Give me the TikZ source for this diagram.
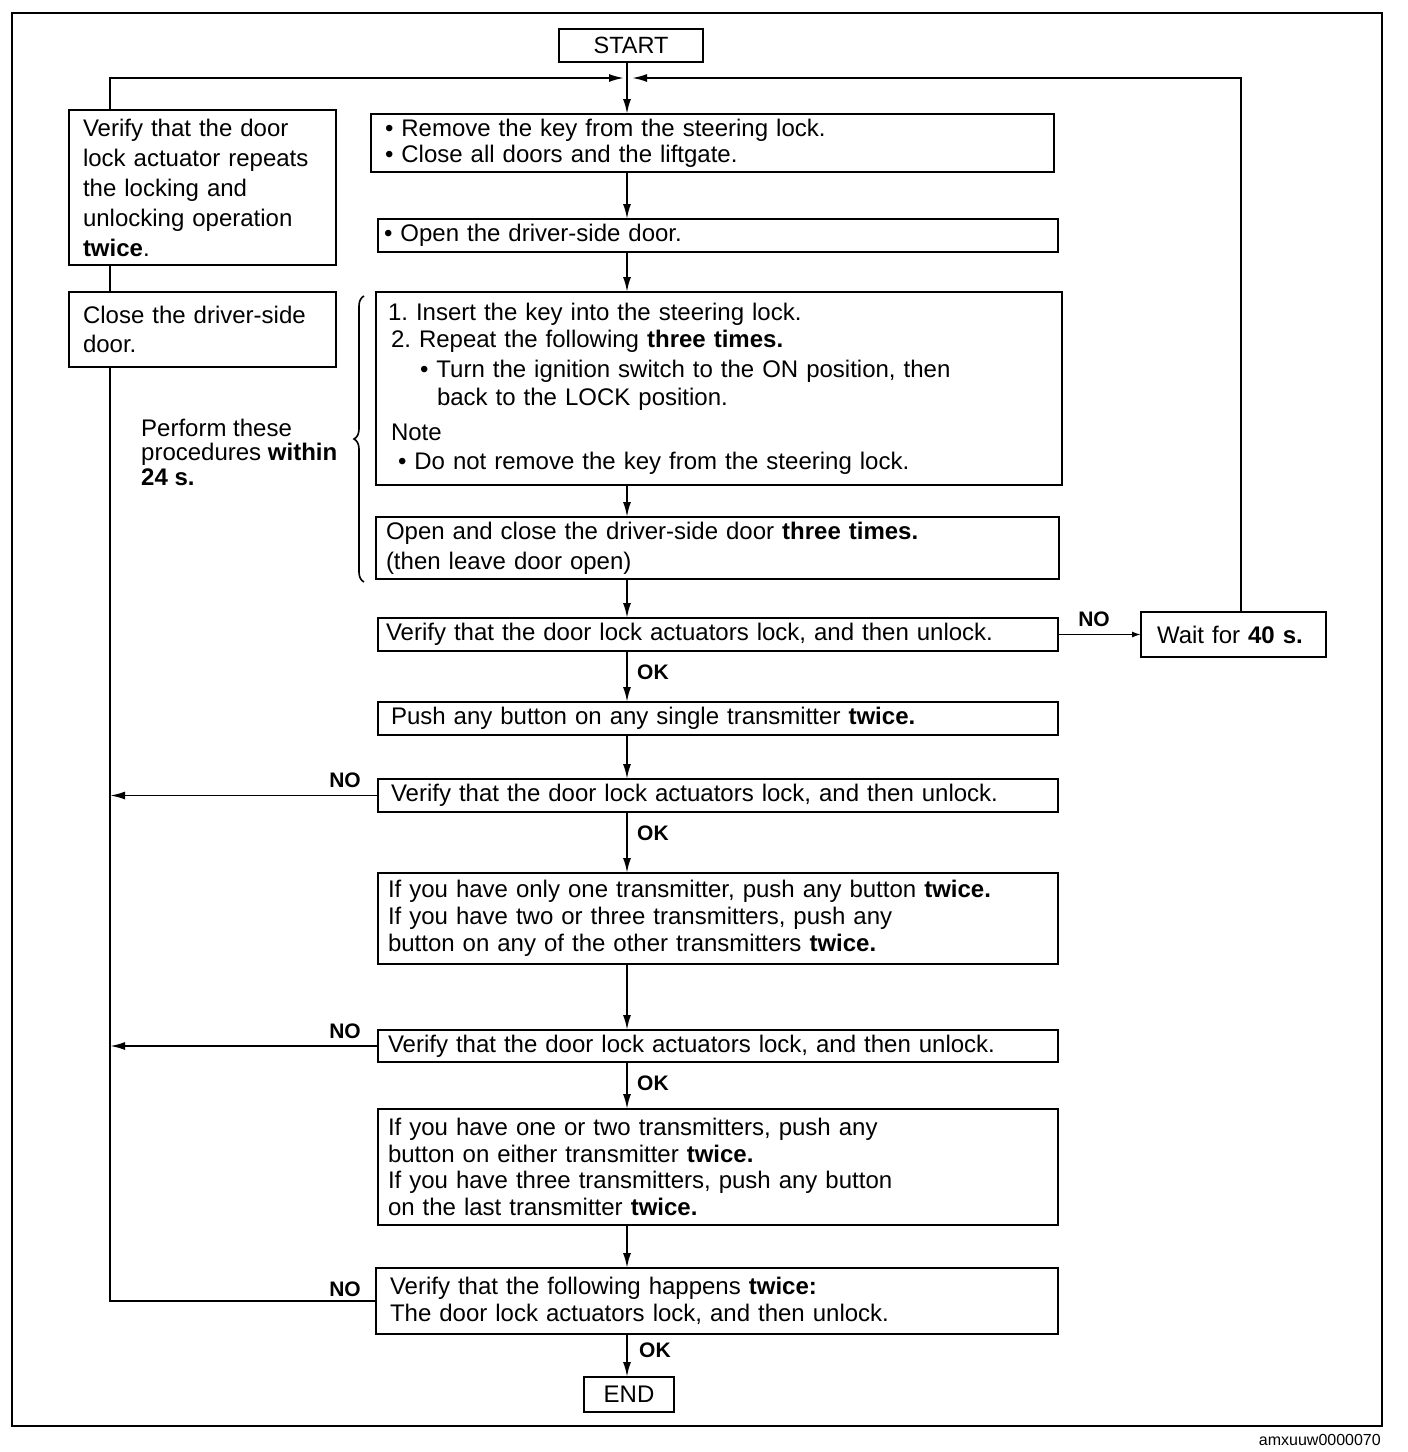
\documentclass[tikz,border=0pt]{standalone}
\usepackage{fontspec}
\setmainfont{Liberation Sans}
\usetikzlibrary{arrows.meta,decorations.pathreplacing}
\frenchspacing
\begin{document}
\frenchspacing
\begin{tikzpicture}[x=1pt,y=-1pt,
  box/.style={draw, line width=1.6pt, anchor=north west, align=left, inner ysep=0pt, outer sep=0pt, font=\fontsize{24}{27}\selectfont},
  conn/.style={line width=1.9pt},
  arr/.style={conn, -{Latex[length=15pt,width=8pt]}},
  smallarr/.style={line width=1.6pt, -{Latex[length=9pt,width=6pt]}},
  lbl/.style={font=\fontsize{21}{21}\selectfont\bfseries, inner sep=0pt},
]
\useasboundingbox (0,0) rectangle (1408,1452);
\draw[line width=2.2pt] (12,13) rectangle (1382,1426);

\coordinate (mx) at (627,0);
\coordinate (lx) at (110,0);
\coordinate (rx) at (1241,0);
\coordinate (lin) at (624,78);
\coordinate (rin) at (632,78);

\node[box, align=center, inner xsep=0pt, minimum width=144pt, minimum height=33pt, font=\fontsize{23.5}{27}\selectfont] (start) at (559,29) {START};

\node[box, inner xsep=14pt, text width=655pt, minimum height=58pt, font=\fontsize{24}{26}\selectfont] (b1) at (371,114)
 {• Remove the key from the steering lock.\\• Close all doors and the liftgate.};

\node[box, inner xsep=6pt, text width=668pt, minimum height=33pt] (b2) at (378,219)
 {• Open the driver-side door.};

\node[box, inner xsep=12pt, text width=662pt, minimum height=193pt] (b3) at (376,292)
 {1. Insert the key into the steering lock.\\[0pt]
  \hspace*{3pt}2. Repeat the following \textbf{three times.}\\[3pt]
  \hspace*{32pt}• Turn the ignition switch to the ON position, then\\[1pt]
  \hspace*{49pt}back to the LOCK position.\\[8pt]
  \hspace*{3pt}Note\\[2pt]
  \hspace*{10pt}• Do not remove the key from the steering lock.};

\node[box, inner xsep=10pt, text width=663pt, minimum height=62pt, font=\fontsize{24}{30}\selectfont] (b4) at (376,517)
 {Open and close the driver-side door \textbf{three times.}\\(then leave door open)};

\node[box, inner xsep=8pt, text width=664pt, minimum height=33pt] (b5) at (378,618)
 {Verify that the door lock actuators lock, and then unlock.};

\node[box, inner xsep=16pt, text width=153pt, minimum height=45pt] (wait) at (1141,612)
 {Wait for \textbf{40 s.}};

\node[box, inner xsep=13pt, text width=654pt, minimum height=33pt] (b6) at (378,702)
 {Push any button on any single transmitter \textbf{twice.}};

\node[box, inner xsep=13pt, text width=654pt, minimum height=33pt] (b7) at (378,779)
 {Verify that the door lock actuators lock, and then unlock.};

\node[box, inner xsep=10pt, text width=660pt, minimum height=91pt] (b8) at (378,873)
 {If you have only one transmitter, push any button \textbf{twice.}\\
  If you have two or three transmitters, push any\\
  button on any of the other transmitters \textbf{twice.}};

\node[box, inner xsep=10pt, text width=660pt, minimum height=32pt] (b9) at (378,1030)
 {Verify that the door lock actuators lock, and then unlock.};

\node[box, inner xsep=10pt, text width=660pt, minimum height=116pt, font=\fontsize{24}{26.5}\selectfont] (b10) at (378,1109)
 {If you have one or two transmitters, push any\\
  button on either transmitter \textbf{twice.}\\
  If you have three transmitters, push any button\\
  on the last transmitter \textbf{twice.}};

\node[box, inner xsep=14pt, text width=654pt, minimum height=66pt] (b11) at (376,1268)
 {Verify that the following happens \textbf{twice:}\\
  The door lock actuators lock, and then unlock.};

\node[box, align=center, inner xsep=0pt, minimum width=90pt, minimum height=35pt] (end) at (584,1377) {END};

\node[box, inner xsep=14pt, text width=239pt, minimum height=155pt, font=\fontsize{24}{30}\selectfont] (verify) at (69,110)
 {Verify that the door\\lock actuator repeats\\the locking and\\unlocking operation\\\textbf{twice}.};

\node[box, inner xsep=14pt, text width=239pt, minimum height=75pt, font=\fontsize{24}{29}\selectfont] (close) at (69,292)
 {Close the driver-side\\door.};

\node[anchor=west, align=left, inner sep=0pt, font=\fontsize{24}{24.5}\selectfont] (perf) at (141,452)
 {Perform these\\procedures \textbf{within}\\\textbf{24 s.}};

\draw[line width=1.6pt, decorate, decoration={brace, amplitude=10pt}] (364,582) -- (364,296);

% main flow
\draw[arr] (start.south -| mx) -- (b1.north -| mx);
\draw[arr] (b1.south -| mx) -- (b2.north -| mx);
\draw[arr] (b2.south -| mx) -- (b3.north -| mx);
\draw[arr] (b3.south -| mx) -- (b4.north -| mx);
\draw[arr] (b4.south -| mx) -- (b5.north -| mx);
\draw[arr] (b5.south -| mx) -- (b6.north -| mx);
\draw[arr] (b6.south -| mx) -- (b7.north -| mx);
\draw[arr] (b7.south -| mx) -- (b8.north -| mx);
\draw[arr] (b8.south -| mx) -- (b9.north -| mx);
\draw[arr] (b9.south -| mx) -- (b10.north -| mx);
\draw[arr] (b10.south -| mx) -- (b11.north -| mx);
\draw[arr] (b11.south -| mx) -- (end.north -| mx);

% loops
\draw[arr] (verify.north -| lx) |- (lin);
\draw[arr] (wait.north -| rx) |- (rin);
\draw[smallarr] (b5.east) -- (wait.west |- b5.east);

% NO returns
\draw[arr] (b7.west) -- (b7.west -| lx);
\draw[arr] (b9.west) -- (b9.west -| lx);
\draw[conn] (b11.west) -| (close.south -| lx);
\draw[conn] (close.north -| lx) -- (verify.south -| lx);

% labels
\node[lbl, anchor=west] (ok1) at (637,672) {OK};
\node[lbl, anchor=west] (ok2) at (637,833) {OK};
\node[lbl, anchor=west] (ok3) at (637,1083) {OK};
\node[lbl, anchor=west] (ok4) at (639,1350) {OK};
\node[lbl] (no1) at (1094,619) {NO};
\node[lbl] (no2) at (345,780) {NO};
\node[lbl] (no3) at (345,1031) {NO};
\node[lbl] (no4) at (345,1289) {NO};

\node[anchor=east, inner sep=0pt, font=\fontsize{16}{16}\selectfont] (cap) at (1381,1440) {amxuuw0000070};
\end{tikzpicture}
\end{document}
